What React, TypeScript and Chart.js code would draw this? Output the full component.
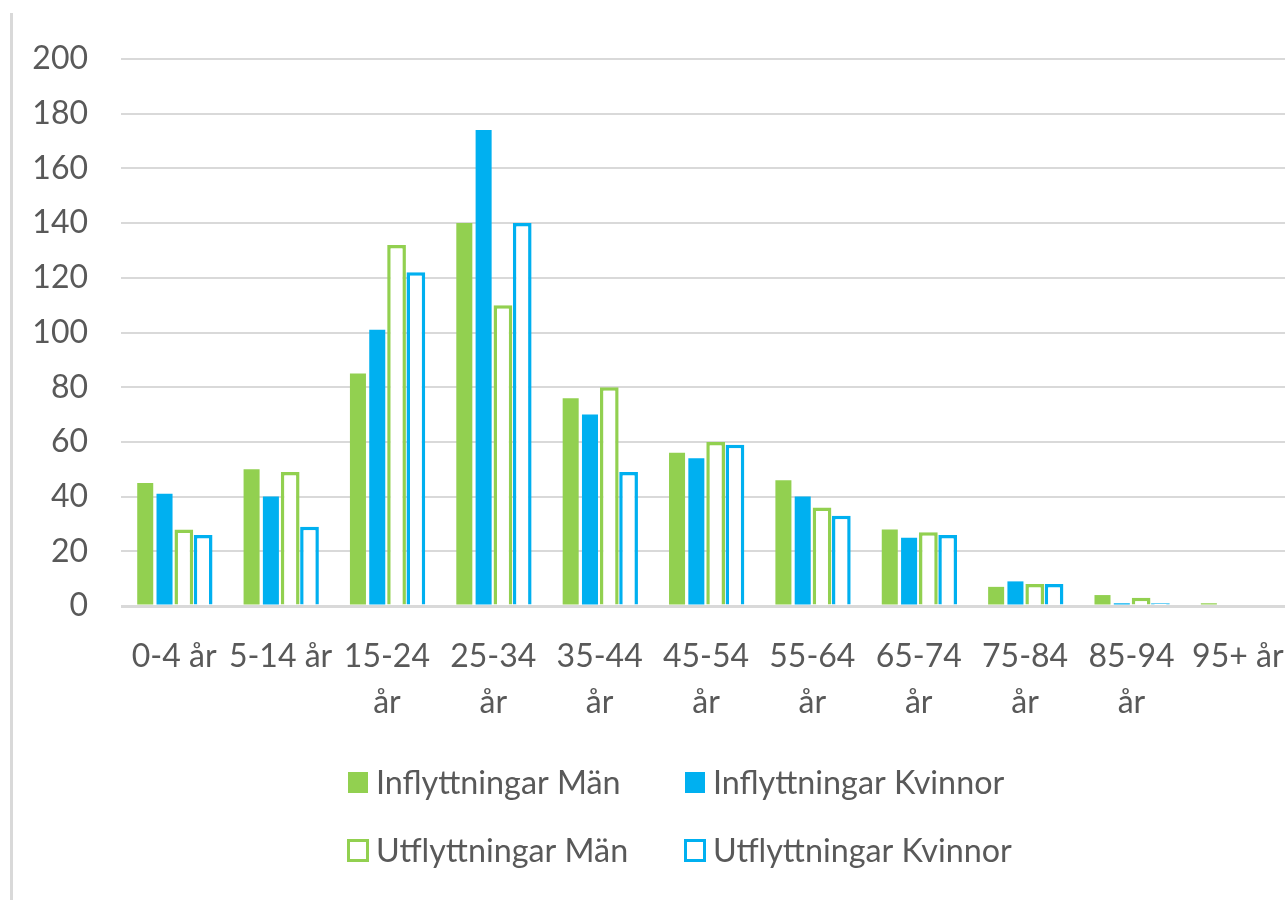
import React, { useEffect, useRef } from "react";
import { Chart, registerables } from "chart.js";

Chart.register(...registerables);

const categories: (string | string[])[] = [
  "0-4 år",
  "5-14 år",
  ["15-24", "år"],
  ["25-34", "år"],
  ["35-44", "år"],
  ["45-54", "år"],
  ["55-64", "år"],
  ["65-74", "år"],
  ["75-84", "år"],
  ["85-94", "år"],
  "95+ år",
];

const seriesNames = [
  "Inflyttningar Män",
  "Inflyttningar Kvinnor",
  "Utflyttningar Män",
  "Utflyttningar Kvinnor",
];

const inflyttningarMan = [45, 50, 85, 140, 76, 56, 46, 28, 7, 4, 1];
const inflyttningarKvinnor = [41, 40, 101, 174, 70, 54, 40, 25, 9, 1, 0];
const utflyttningarMan = [28, 49, 132, 110, 80, 60, 36, 27, 8, 3, 0];
const utflyttningarKvinnor = [26, 29, 122, 140, 49, 59, 33, 26, 8, 1, 0];

const yTicks = [0, 20, 40, 60, 80, 100, 120, 140, 160, 180, 200];

const GREEN = "#92D050";
const BLUE = "#00B0F0";
const TEXT = "#595959";
const GRID = "#d9d9d9";
const FONT = "Lato, 'Open Sans', sans-serif";

const legendPlugin = {
  id: "excelLegend",
  afterDraw(chart: any) {
    const ctx = chart.ctx as CanvasRenderingContext2D;
    const cx = chart.width / 2;
    const cols = [cx - 304, cx + 33];
    const rows = [769.5, 837.5];
    ctx.save();
    ctx.font = `32.3px ${FONT}`;
    ctx.fillStyle = TEXT;
    ctx.textBaseline = "alphabetic";
    ctx.textAlign = "left";
    chart.data.datasets.forEach((ds: any, i: number) => {
      const col = cols[i % 2];
      const row = rows[Math.floor(i / 2)];
      const filled = i < 2;
      const color = ds.borderColor;
      if (filled) {
        ctx.fillStyle = color;
        ctx.fillRect(col, row - 10.5, 20, 21);
      } else {
        ctx.strokeStyle = color;
        ctx.lineWidth = 3;
        ctx.strokeRect(col + 0.5, row - 10, 19, 20);
      }
      ctx.fillStyle = TEXT;
      ctx.fillText(ds.label, col + 28, row + 11.5);
    });
    ctx.restore();
  },
};

export default function App() {
  const ref = useRef<HTMLCanvasElement | null>(null);

  useEffect(() => {
    if (!ref.current) return;
    const chart = new Chart(ref.current, {
      type: "bar",
      data: {
        labels: categories,
        datasets: [
          {
            label: seriesNames[0],
            data: inflyttningarMan,
            backgroundColor: GREEN,
            borderColor: GREEN,
            borderWidth: 0,
            barPercentage: 0.83,
            categoryPercentage: 0.726,
          },
          {
            label: seriesNames[1],
            data: inflyttningarKvinnor,
            backgroundColor: BLUE,
            borderColor: BLUE,
            borderWidth: 0,
            barPercentage: 0.83,
            categoryPercentage: 0.726,
          },
          {
            label: seriesNames[2],
            data: utflyttningarMan,
            backgroundColor: "#ffffff",
            borderColor: GREEN,
            borderWidth: 3.5,
            borderSkipped: "start",
            barPercentage: 0.97,
            categoryPercentage: 0.726,
          },
          {
            label: seriesNames[3],
            data: utflyttningarKvinnor,
            backgroundColor: "#ffffff",
            borderColor: BLUE,
            borderWidth: 3.5,
            borderSkipped: "start",
            barPercentage: 0.97,
            categoryPercentage: 0.726,
          },
        ],
      },
      options: {
        responsive: false,
        animation: false,
        devicePixelRatio: 1,
        layout: { padding: { top: 46, bottom: 177, left: 0, right: 0 } },
        plugins: {
          legend: { display: false },
          tooltip: { enabled: false },
          title: { display: false },
        },
        scales: {
          x: {
            grid: { display: false, drawTicks: false },
            border: { display: false },
            ticks: {
              color: TEXT,
              font: { family: FONT, size: 32, lineHeight: 1.43 },
              padding: 28,
              autoSkip: false,
              maxRotation: 0,
              minRotation: 0,
            },
            afterFit: (scale: any) => {
              scale.height = 117;
              scale.paddingLeft = 0;
              scale.paddingRight = 0;
            },
          },
          y: {
            min: 0,
            max: 200,
            afterBuildTicks: (scale: any) => {
              scale.ticks = yTicks.map((v) => ({ value: v }));
            },
            grid: {
              color: GRID,
              lineWidth: (c: any) => (c.tick && c.tick.value === 0 ? 3 : 2),
              drawTicks: false,
            },
            border: { display: false },
            ticks: {
              color: TEXT,
              font: { family: FONT, size: 32 },
              padding: 33,
            },
            afterFit: (scale: any) => {
              scale.width = 108;
              scale.paddingTop = 0;
              scale.paddingBottom = 0;
            },
          },
        },
      },
      plugins: [legendPlugin],
    });
    return () => chart.destroy();
  }, []);

  return (
    <div
      style={{
        position: "absolute",
        left: 10,
        top: 13,
        width: 1275,
        height: 887,
        overflow: "hidden",
        borderLeft: `3px solid ${GRID}`,
        boxSizing: "border-box",
        background: "#fff",
      }}
    >
      <canvas ref={ref} width={1278} height={887} style={{ display: "block" }} />
    </div>
  );
}
